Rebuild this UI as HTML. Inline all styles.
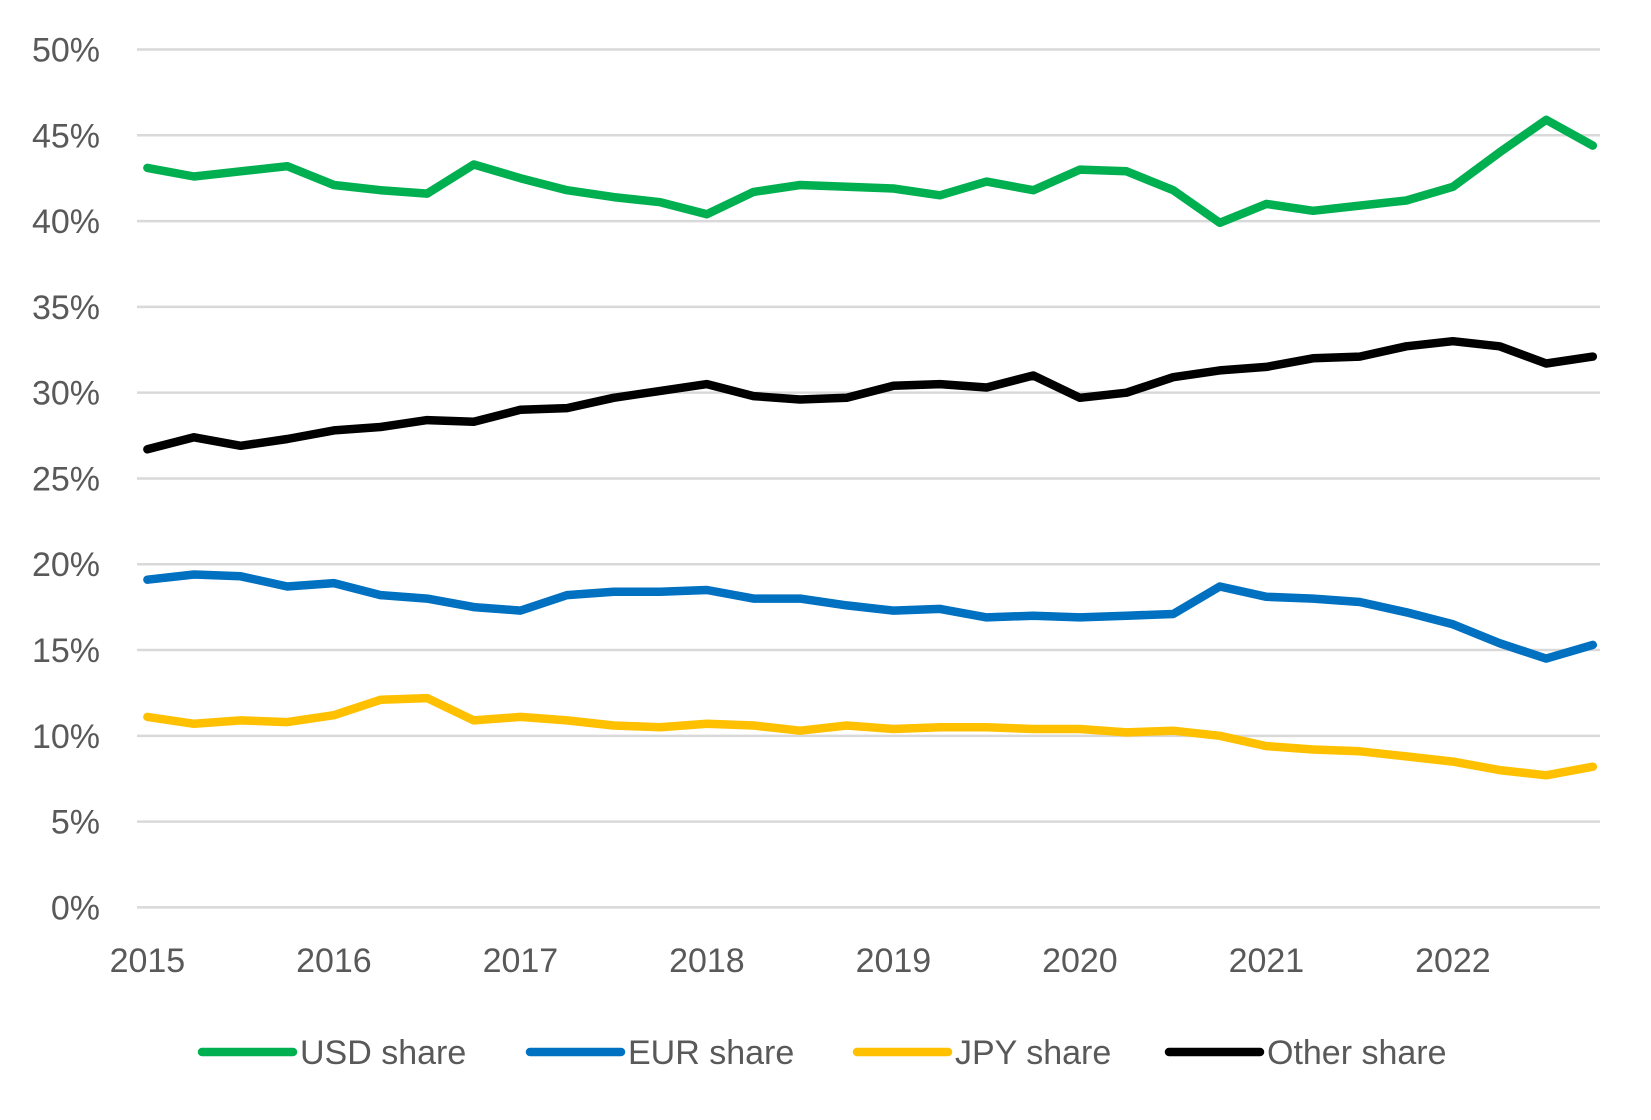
<!DOCTYPE html>
<html><head><meta charset="utf-8"><style>
html,body{margin:0;padding:0;background:#fff;}
svg{display:block;font-family:"Liberation Sans",sans-serif;}
</style></head><body>
<svg id="chart" width="1651" height="1120"></svg>
<script>
const years=[2015,2016,2017,2018,2019,2020,2021,2022];
const yTicks=[0,5,10,15,20,25,30,35,40,45,50];
const usd=[43.1,42.6,42.9,43.2,42.1,41.8,41.6,43.3,42.5,41.8,41.4,41.1,40.4,41.7,42.1,42.0,41.9,41.5,42.3,41.8,43.0,42.9,41.8,39.9,41.0,40.6,40.9,41.2,42.0,44.0,45.9,44.4];
const eur=[19.1,19.4,19.3,18.7,18.9,18.2,18.0,17.5,17.3,18.2,18.4,18.4,18.5,18.0,18.0,17.6,17.3,17.4,16.9,17.0,16.9,17.0,17.1,18.7,18.1,18.0,17.8,17.2,16.5,15.4,14.5,15.3];
const jpy=[11.1,10.7,10.9,10.8,11.2,12.1,12.2,10.9,11.1,10.9,10.6,10.5,10.7,10.6,10.3,10.6,10.4,10.5,10.5,10.4,10.4,10.2,10.3,10.0,9.4,9.2,9.1,8.8,8.5,8.0,7.7,8.2];
const other=[26.7,27.4,26.9,27.3,27.8,28.0,28.4,28.3,29.0,29.1,29.7,30.1,30.5,29.8,29.6,29.7,30.4,30.5,30.3,31.0,29.7,30.0,30.9,31.3,31.5,32.0,32.1,32.7,33.0,32.7,31.7,32.1];
const seriesNames=["USD share","EUR share","JPY share","Other share"];

const NS="http://www.w3.org/2000/svg";
const svg=document.getElementById('chart');
const X0=147.4,XPY=186.5,Y0=907.4,Y50=49.5;
function xs(t){return X0+(t-2015)*XPY;}
function ys(v){return Y0-(v/50)*(Y0-Y50);}
function mk(tag,attrs){const e=document.createElementNS(NS,tag);for(const k in attrs)e.setAttribute(k,attrs[k]);svg.appendChild(e);return e;}

yTicks.forEach(v=>{
  const l=mk('line',{x1:137,x2:1600,y1:ys(v),y2:ys(v),stroke:'#d9d9d9','stroke-width':2.5});
  
  
  const t=mk('text',{x:100,y:ys(v)+12,'text-anchor':'end','font-size':34,fill:'#595959'});
  t.textContent=v+'%';
  
  
});
years.forEach(y=>{
  const t=mk('text',{x:xs(y),y:972,'text-anchor':'middle','font-size':34,fill:'#595959'});
  t.textContent=y;
  
  
});
const all=[usd,eur,jpy,other];
const colors=['#00b050','#0070c0','#ffc000','#000000'];
all.forEach((arr,i)=>{
  const d=arr.map((v,k)=>(k?'L':'M')+xs(2015+k*0.25).toFixed(1)+','+ys(v).toFixed(1)).join(' ');
  const p=mk('path',{d:d,fill:'none',stroke:colors[i],'stroke-width':8.5,'stroke-linejoin':'round','stroke-linecap':'round'});
  
  
});
const legX=[202,530,857,1169];
seriesNames.forEach((n,i)=>{
  const l=mk('line',{x1:legX[i],x2:legX[i]+91,y1:1052,y2:1052,stroke:colors[i],'stroke-width':8.5,'stroke-linecap':'round'});
  
  
  const t=mk('text',{x:legX[i]+98,y:1064,'font-size':34,fill:'#595959'});
  t.textContent=n;
  
  
});
</script>
</body></html>
